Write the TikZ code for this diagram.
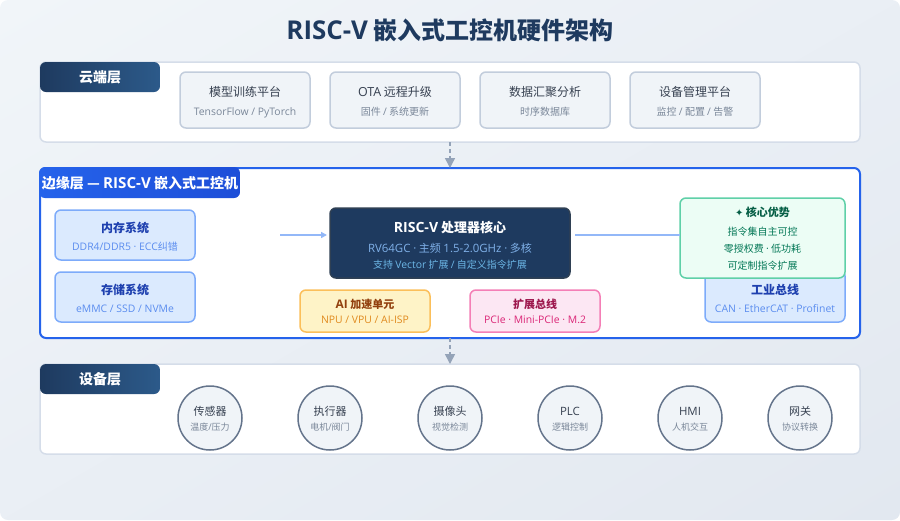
\documentclass[tikz,border=0pt]{standalone}
\usepackage{fontspec}
\setmainfont{Noto Sans CJK SC}
\newfontfamily\lat{Open Sans}[Scale=1.04,BoldFeatures={Scale=1.08}]
\newfontfamily\sym{DejaVu Sans}
\usetikzlibrary{arrows.meta}
\definecolor{bgA}{HTML}{F1F5F9}
\definecolor{bgB}{HTML}{E2E8F0}
\definecolor{navy}{HTML}{1E3A5F}
\definecolor{navyB}{HTML}{2C5A8A}
\definecolor{blueA}{HTML}{2563EB}
\definecolor{blueB}{HTML}{1D4ED8}
\definecolor{layerline}{HTML}{D5DDE9}
\definecolor{cloudfill}{HTML}{F0F4F8}
\definecolor{cloudline}{HTML}{C2CDDC}
\definecolor{darktxt}{HTML}{374151}
\definecolor{subtxt}{HTML}{7A8799}
\definecolor{bluefill}{HTML}{DBEAFE}
\definecolor{blueline}{HTML}{7DABFA}
\definecolor{bluetitle}{HTML}{1E40AF}
\definecolor{bluesub}{HTML}{5B8DEF}
\definecolor{lightarrow}{HTML}{93B8F8}
\definecolor{corefill}{HTML}{1E3A5F}
\definecolor{coreline}{HTML}{2F4054}
\definecolor{coresubA}{HTML}{7FB0E8}
\definecolor{coresubB}{HTML}{6CB6E6}
\definecolor{amberfill}{HTML}{FEF3C7}
\definecolor{amberline}{HTML}{FBBF5A}
\definecolor{ambertitle}{HTML}{92400E}
\definecolor{ambersub}{HTML}{E08A1E}
\definecolor{pinkfill}{HTML}{FCE7F3}
\definecolor{pinkline}{HTML}{F47FB6}
\definecolor{pinktitle}{HTML}{9D174D}
\definecolor{pinksub}{HTML}{DB2777}
\definecolor{greenfill}{HTML}{ECFDF5}
\definecolor{greenline}{HTML}{5FD0A8}
\definecolor{greentitle}{HTML}{065F46}
\definecolor{greensub}{HTML}{047857}
\definecolor{circleline}{HTML}{64748B}
\definecolor{dasharrow}{HTML}{94A3B8}
\tikzset{
 x=1pt,y=-1pt,
 txt/.style={inner sep=0pt,outer sep=0pt,align=center,anchor=base},
 panel/.style={outer sep=0pt,inner sep=0pt,anchor=north west,rounded corners=6pt,line width=1.5pt},
 layerbox/.style={panel,draw=layerline,fill=white},
 cardbox/.style={panel,draw=cloudline,fill=cloudfill,minimum width=130pt,minimum height=56pt},
 bluebox/.style={panel,draw=blueline,fill=bluefill},
 dev/.style={circle,draw=circleline,line width=1.5pt,fill=cloudfill,minimum size=64pt,inner sep=0pt,outer sep=0pt},
 flowarrow/.style={draw=dasharrow,line width=1.5pt,dash pattern=on 4pt off 3pt,-{Triangle[length=10pt,width=10pt,fill=dasharrow]}},
 lightflow/.style={draw=lightarrow,line width=1.5pt},
}
\newcommand{\tA}[1]{{\fontsize{12}{14}\selectfont\color{darktxt}#1}}
\newcommand{\tB}[1]{{\fontsize{10}{12}\selectfont\color{subtxt}#1}}
\newcommand{\tC}[1]{{\fontsize{12}{14}\selectfont\bfseries #1}}
\newcommand{\tE}[1]{{\fontsize{11}{14}\selectfont\bfseries #1}}
\newcommand{\tD}[1]{{\fontsize{10}{12}\selectfont #1}}
\newcommand{\ccap}[3]{%
 \node[txt] at (#1,96.6) {\tA{#2}};
 \node[txt] at (#1,115) {\tB{#3}};}
\newcommand{\dcap}[3]{\node[txt] at (#1,415.8) {{\fontsize{11}{14}\selectfont\color{darktxt}#2}};\node[txt] at (#1,430.6) {{\fontsize{9}{11}\selectfont\color{subtxt}#3}};}
\begin{document}
\begin{tikzpicture}
\useasboundingbox (0,0) rectangle (900,520);
\begin{scope}
\clip[rounded corners=8pt] (0,0) rectangle (900,520);
\shade[transform canvas={shift={(450,260)},rotate=30},top color=bgA,bottom color=bgB] (-600,-450) rectangle (600,450);
\end{scope}
\node[txt] (title) at (450,39) {\fontsize{24}{28}\selectfont\bfseries\color{navy}{\lat RISC-V} 嵌入式工控机硬件架构};
% cloud layer
\node[layerbox,minimum width=820pt,minimum height=80pt] (cloud) at (40,62) {};
\shade[left color=navy,right color=navyB,rounded corners=6pt] (40,62) rectangle (160,92);
\node[txt,white] (cloudt) at (100,82) {\fontsize{14}{16}\selectfont\bfseries 云端层};
\node[cardbox] (c1) at (180,72) {};
\node[cardbox] (c2) at (330,72) {};
\node[cardbox] (c3) at (480,72) {};
\node[cardbox] (c4) at (630,72) {};
\ccap{245}{模型训练平台}{{\lat TensorFlow / PyTorch}}
\ccap{395}{{\lat OTA} 远程升级}{固件 {\lat /} 系统更新}
\ccap{545}{数据汇聚分析}{时序数据库}
\ccap{695}{设备管理平台}{监控 {\lat /} 配置 {\lat /} 告警}
% edge layer
\node[panel,draw=blueA,line width=2pt,fill=white,minimum width=820pt,minimum height=170pt] (edge) at (40,168) {};
\shade[left color=blueA,right color=blueB,rounded corners=6pt] (39,167) rectangle (240,198);
\node[txt,white] (edget) at (140,188) {\fontsize{14}{16}\selectfont\bfseries 边缘层 — {\lat RISC-V} 嵌入式工控机};
\node[bluebox,minimum width=140pt,minimum height=50pt] (mem) at (55,210) {};
\node[bluebox,minimum width=140pt,minimum height=50pt] (sto) at (55,272) {};
\node[txt] at (125,232.6) {\tC{\color{bluetitle}内存系统}};
\node[txt] at (125,250.4) {\tD{\color{bluesub}{\lat DDR4/DDR5 · ECC}纠错}};
\node[txt] at (125,294.4) {\tC{\color{bluetitle}存储系统}};
\node[txt] at (125,312) {\tD{\color{bluesub}\lat eMMC / SSD / NVMe}};
\node[panel,draw=coreline,fill=corefill,minimum width=240pt,minimum height=70pt] (core) at (330,208) {};
\node[txt,white] at (450,232.4) {\fontsize{13}{15}\selectfont\bfseries {\lat RISC-V} 处理器核心};
\node[txt] at (450,252.4) {\fontsize{11}{13}\selectfont\color{coresubA}{\lat RV64GC ·} 主频 {\lat 1.5-2.0GHz ·} 多核};
\node[txt] at (450,268) {\fontsize{10}{12}\selectfont\color{coresubB}支持 {\lat Vector} 扩展 {\lat /} 自定义指令扩展};
\node[panel,draw=amberline,fill=amberfill,minimum width=130pt,minimum height=42pt] (ai) at (300,290) {};
\node[txt] at (365,308) {\tE{\color{ambertitle}{\lat AI} 加速单元}};
\node[txt] at (365,323.3) {\tD{\color{ambersub}\lat NPU / VPU / AI-ISP}};
\node[panel,draw=pinkline,fill=pinkfill,minimum width=130pt,minimum height=42pt] (ext) at (470,290) {};
\node[txt] at (535,308) {\tE{\color{pinktitle}扩展总线}};
\node[txt] at (535,323.3) {\tD{\color{pinksub}\lat PCIe · Mini-PCIe · M.2}};
\node[bluebox,minimum width=140pt,minimum height=52pt] (bus) at (705,270) {};
\node[txt] at (775,294.4) {\tC{\color{bluetitle}工业总线}};
\node[txt] at (775,312) {\tD{\color{bluesub}\lat CAN · EtherCAT · Profinet}};
\coordinate (lstart) at (280,235);
\draw[lightflow,shorten >=3pt,-{Triangle[length=6pt,width=6pt,fill=blueline]}] (lstart) -- (core.west |- lstart);
\coordinate (rstart) at (575,235);
\node[panel,draw=greenline,fill=greenfill,minimum width=165pt,minimum height=80pt] (adv) at (680,198) {};
\draw[lightflow] (rstart) -- (adv.west |- rstart);
\node[txt] at (762.5,216.4) {\tE{\color{greentitle}{\sym\fontsize{10}{11}\selectfont ✦}\ 核心优势}};
\node[txt] at (762.5,235.4) {\tD{\color{greensub}指令集自主可控}};
\node[txt] at (762.5,252.4) {\tD{\color{greensub}零授权费 {\lat ·} 低功耗}};
\node[txt] at (762.5,269.4) {\tD{\color{greensub}可定制指令扩展}};
% device layer
\node[layerbox,minimum width=820pt,minimum height=90pt] (device) at (40,364) {};
\shade[left color=navy,right color=navyB,rounded corners=6pt] (40,364) rectangle (160,394);
\node[txt,white] (devicet) at (100,384) {\fontsize{14}{16}\selectfont\bfseries 设备层};
\node[dev] (d1) at (210,418) {};
\node[dev] (d2) at (330,418) {};
\node[dev] (d3) at (450,418) {};
\node[dev] (d4) at (570,418) {};
\node[dev] (d5) at (690,418) {};
\node[dev] (d6) at (800,418) {};
\dcap{210}{传感器}{温度{\lat /}压力}
\dcap{330}{执行器}{电机{\lat /}阀门}
\dcap{450}{摄像头}{视觉检测}
\dcap{570}{\lat PLC}{逻辑控制}
\dcap{690}{\lat HMI}{人机交互}
\dcap{800}{网关}{协议转换}
% flows
\draw[flowarrow] (cloud.south -| title.base) -- (edge.north -| title.base);
\draw[flowarrow] (edge.south -| title.base) -- (device.north -| title.base);
\end{tikzpicture}
\end{document}
